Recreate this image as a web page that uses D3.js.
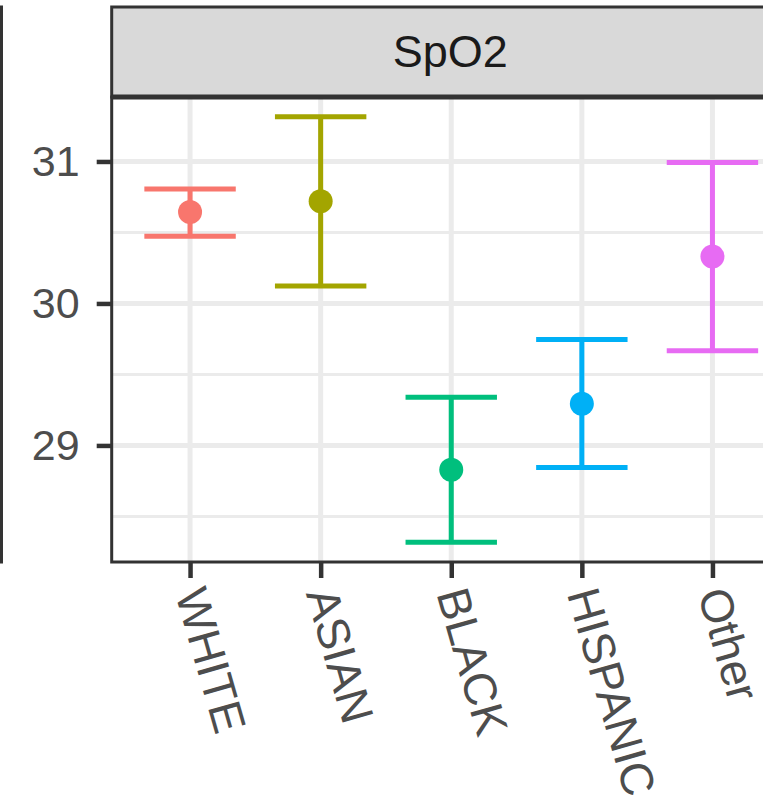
<!DOCTYPE html>
<html>
<head>
<meta charset="utf-8">
<script src="https://cdn.jsdelivr.net/npm/d3@7"></script>
<style>
  html, body { margin: 0; padding: 0; background: #ffffff; }
  svg { display: block; }
  text { font-family: "Liberation Sans", Arial, Helvetica, sans-serif; }
</style>
</head>
<body>
<div id="chart"></div>
<script>
// ---- data ----
const categories = ["WHITE", "ASIAN", "BLACK", "HISPANIC", "Other"];
const means      = [30.644, 30.72, 28.828, 29.294, 30.33];
const lower      = [30.474, 30.122, 28.318, 28.845, 29.666];
const upper      = [30.806, 31.315, 29.339, 29.746, 30.993];
const colors     = ["#F8766D", "#A3A500", "#00BF7D", "#00B0F6", "#E76BF3"];
const yTicks     = [29, 30, 31];
const yMinor     = [28.5, 29.5, 30.5];
const stripLabel = "SpO2";
const yDomain    = [28.179, 31.454];

const W = 763, H = 805;
const panel = { left: 111.7, right: 790.8, top: 97, bottom: 562 };
const stripTop = 7;

const svg = d3.select("#chart").append("svg")
  .attr("width", W).attr("height", H);

const x = d3.scalePoint().domain(categories)
  .range([panel.left, panel.right]).padding(0.6);
const y = d3.scaleLinear().domain(yDomain)
  .range([panel.bottom, panel.top]);

const data = categories.map((c, i) => ({
  cat: c, mean: means[i], lo: lower[i], hi: upper[i], color: colors[i]
}));

// clip for panel contents
svg.append("clipPath").attr("id", "pclip")
  .append("rect")
  .attr("x", panel.left).attr("y", panel.top)
  .attr("width", panel.right - panel.left)
  .attr("height", panel.bottom - panel.top);

const g = svg.append("g").attr("clip-path", "url(#pclip)");

// minor grid
g.selectAll("line.minor").data(yMinor).join("line")
  .attr("x1", panel.left).attr("x2", panel.right)
  .attr("y1", d => y(d)).attr("y2", d => y(d))
  .attr("stroke", "#EBEBEB").attr("stroke-width", 3);

// major grid
g.selectAll("line.majy").data(yTicks).join("line")
  .attr("x1", panel.left).attr("x2", panel.right)
  .attr("y1", d => y(d)).attr("y2", d => y(d))
  .attr("stroke", "#EBEBEB").attr("stroke-width", 5);
g.selectAll("line.majx").data(categories).join("line")
  .attr("x1", d => x(d)).attr("x2", d => x(d))
  .attr("y1", panel.top).attr("y2", panel.bottom)
  .attr("stroke", "#EBEBEB").attr("stroke-width", 5);

// error bars
const capHalf = x.step() * 0.35;
const eb = g.selectAll("g.eb").data(data).join("g")
  .attr("stroke", d => d.color).attr("stroke-width", 5);
eb.append("line")
  .attr("x1", d => x(d.cat)).attr("x2", d => x(d.cat))
  .attr("y1", d => y(d.lo)).attr("y2", d => y(d.hi));
eb.append("line")
  .attr("x1", d => x(d.cat) - capHalf).attr("x2", d => x(d.cat) + capHalf)
  .attr("y1", d => y(d.hi)).attr("y2", d => y(d.hi));
eb.append("line")
  .attr("x1", d => x(d.cat) - capHalf).attr("x2", d => x(d.cat) + capHalf)
  .attr("y1", d => y(d.lo)).attr("y2", d => y(d.lo));

// points
g.selectAll("circle").data(data).join("circle")
  .attr("cx", d => x(d.cat)).attr("cy", d => y(d.mean))
  .attr("r", 12).attr("fill", d => d.color);

// panel border
svg.append("rect")
  .attr("x", panel.left).attr("y", panel.top)
  .attr("width", panel.right - panel.left)
  .attr("height", panel.bottom - panel.top)
  .attr("fill", "none").attr("stroke", "#333333").attr("stroke-width", 3);

// strip
svg.append("rect")
  .attr("x", panel.left).attr("y", stripTop)
  .attr("width", panel.right - panel.left)
  .attr("height", panel.top - stripTop)
  .attr("fill", "#D9D9D9").attr("stroke", "#333333").attr("stroke-width", 3);
svg.append("line")
  .attr("x1", panel.left).attr("x2", panel.right)
  .attr("y1", panel.top).attr("y2", panel.top)
  .attr("stroke", "#333333").attr("stroke-width", 5);
svg.append("text")
  .attr("x", (panel.left + panel.right) / 2 - 1).attr("y", 67)
  .attr("text-anchor", "middle")
  .attr("font-size", 45).attr("fill", "#1A1A1A")
  .text(stripLabel);

// left neighbouring (cropped) panel
svg.append("rect")
  .attr("x", -200).attr("y", stripTop)
  .attr("width", 201.5).attr("height", panel.bottom - stripTop)
  .attr("fill", "none").attr("stroke", "#333333").attr("stroke-width", 3);
svg.append("line")
  .attr("x1", -200).attr("x2", 1.5)
  .attr("y1", panel.top).attr("y2", panel.top)
  .attr("stroke", "#333333").attr("stroke-width", 5);

// y axis
const yAxis = d3.axisLeft(y).tickValues(yTicks).tickSize(15).tickPadding(17)
  .tickFormat(d3.format("d"));
const ya = svg.append("g").attr("transform", `translate(${panel.left},0)`).call(yAxis);
ya.select(".domain").remove();
ya.selectAll(".tick line").attr("stroke", "#333333").attr("stroke-width", 4.5);
ya.selectAll(".tick text").attr("fill", "#4D4D4D").attr("font-size", 43)
  .attr("font-family", "'Liberation Sans', Arial, sans-serif");

// x axis
const xAxis = d3.axisBottom(x).tickSize(16).tickPadding(12);
const xa = svg.append("g").attr("transform", `translate(0,${panel.bottom})`).call(xAxis);
xa.select(".domain").remove();
xa.selectAll(".tick line").attr("stroke", "#333333").attr("stroke-width", 4.5);
xa.selectAll(".tick text")
  .attr("fill", "#4D4D4D").attr("font-size", 46)
  .attr("font-family", "'Liberation Sans', Arial, sans-serif")
  .attr("text-anchor", "start")
  .attr("y", 0).attr("dy", "0.35em")
  .attr("transform", "translate(0,27) rotate(74)");
</script>
</body>
</html>
